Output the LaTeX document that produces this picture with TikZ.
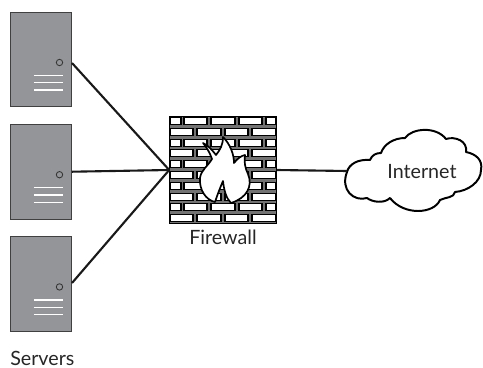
\documentclass[tikz,border=0pt]{standalone}
\usepackage{fontspec}
\setmainfont{Lato}
\usetikzlibrary{positioning}
\definecolor{servergray}{HTML}{939598}
\begin{document}
\begin{tikzpicture}[
    x=0.025cm, y=-0.025cm,
    node distance=0.41cm,
    server/.style={rectangle, draw=black!75, line width=0.7pt, fill=servergray, minimum width=1.525cm, minimum height=2.37cm, inner sep=0pt},
    link/.style={line width=1.5pt, black!90},
    label/.style={font=\fontsize{14}{16}\selectfont, text=black!85, inner sep=0pt},
    brick/.style={fill=white, draw=black, line width=0.8pt}
]
\useasboundingbox (0,0) rectangle (483,368);

% servers
\node[server] (server1) at (41,59.5) {};
\node[server, below=of server1] (server2) {};
\node[server, below=of server2] (server3) {};
\foreach \s in {server1,server2,server3} {
    \draw[black!80, line width=0.6pt] (\s.center) ++(18.5,3) circle (0.08cm);
    \foreach \d in {16,23.3,30.6}
        \draw[white, line width=0.9pt] (\s.center) ++(-7,\d) -- ++(29.5,0);
}
\node[label, below=0.48cm of server3.south west, anchor=north west] (servers) {Servers};

% firewall
\node[rectangle, fill=black!55, draw=black, line width=0.8pt, minimum size=2.66cm, inner sep=0pt] (firewall) at (223,170) {};
\foreach \r in {0,2,4,6,8} {
    \foreach \a/\b in {170/181,184/207,211/235,239/262,266/276}
        \path[brick] (\a,117.5+10.8*\r) rectangle (\b,124.5+10.8*\r);
    \foreach \a/\b in {170/193,197/221,225/248,252/276}
        \path[brick] (\a,128.3+10.8*\r) rectangle (\b,135.3+10.8*\r);
}
\draw[fill=white, line width=1.2pt, line join=round] (215,202)
    .. controls (206,200) and (199,190) .. (200,178)
    .. controls (201,170) and (208,166) .. (212,159)
    .. controls (210,153) and (207,148) .. (203,143)
    .. controls (209,146) and (212,150) .. (216,155)
    .. controls (220,150) and (223,145) .. (223,137)
    .. controls (230,144) and (234,154) .. (234,163)
    .. controls (238,158) and (241,156) .. (245,155)
    .. controls (244,162) and (245,168) .. (248,174)
    .. controls (253,186) and (247,198) .. (231,203)
    .. controls (226,198) and (224,190) .. (223,181)
    .. controls (220,188) and (217,196) .. (215,202) -- cycle;
\node[label, below=0.15cm of firewall] (firewalltext) {Firewall};

% cloud
\draw[line width=1.4pt, line join=round] (347,172)
    .. controls (349,164) and (358,159) .. (370,160)
    .. controls (372,155) and (376,153) .. (381,153)
    .. controls (384,144) and (394,138) .. (405,138)
    .. controls (412,128) and (436,126) .. (446,139)
    .. controls (455,136) and (468,141) .. (466,152)
    .. controls (476,154) and (483,160) .. (481,170)
    .. controls (481,182) and (468,191) .. (455,192)
    .. controls (454,198) and (446,197) .. (440,200)
    .. controls (434,214) and (404,216) .. (390,198)
    .. controls (384,204) and (372,202) .. (367,198)
    .. controls (354,202) and (340,190) .. (347,172) -- cycle;
\coordinate (cloudwest) at (347,171);
\node[label] (internet) at (422,172) {Internet};

% connections
\draw[link] (server1.east |- 0,63) -- (firewall.west);
\draw[link] (server2.east) -- (firewall.west);
\draw[link] (server3.east |- 0,283) -- (firewall.west);
\draw[link] (firewall.east) -- (cloudwest);

\end{tikzpicture}
\end{document}
